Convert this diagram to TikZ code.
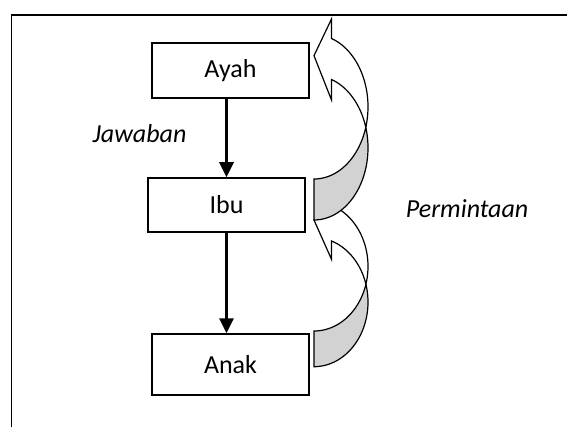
\documentclass[tikz,border=0pt]{standalone}
\usepackage{fontspec}
\setmainfont{Carlito}
\usetikzlibrary{arrows.meta}
\definecolor{backgray}{RGB}{210,210,210}

\tikzset{
  box/.style={draw=black, line width=1.5pt, minimum width=157pt, inner sep=0pt,
    font=\fontsize{26}{31}\selectfont},
  lbl/.style={inner sep=0pt, font=\fontsize{26}{31}\selectfont\itshape},
  flow/.style={line width=2.7pt, -{Triangle[width=14pt,length=15pt]}},
  bandfront/.style={fill=white, draw=black, line width=1.2pt},
  bandback/.style={fill=backgray, draw=black, line width=1.2pt},
}

% Curved left-pointing block arrow built from two equal half ellipses.
% #1 left x, #2 horizontal radius, #3 centre y of the upper ellipse,
% #4 vertical radius, #5 band thickness, #6 head top y, #7 head bottom y, #8 tip y
\newcommand{\bentarrow}[8]{%
  \pgfmathsetmacro{\bxNeck}{#1+17.5}%
  \pgfmathsetmacro{\bxStart}{-acos(17.5/#2)}%
  \pgfmathsetmacro{\bxCross}{asin(#5/(2*#4))}%
  % visible front of the band with its head
  \draw[bandfront] (#1,#8) -- (\bxNeck,#6)
    -- plot[domain=\bxStart:\bxCross, samples=50, variable=\q]
         ({#1+#2*cos(\q)},{#3+#4*sin(\q)})
    -- plot[domain=-\bxCross:\bxStart, samples=50, variable=\q]
         ({#1+#2*cos(\q)},{#3+#5+#4*sin(\q)})
    -- (\bxNeck,#7) -- cycle;
  % shaded underside near the tail
  \draw[bandback] plot[domain=90:\bxCross, samples=50, variable=\q]
         ({#1+#2*cos(\q)},{#3+#4*sin(\q)})
    -- plot[domain=-\bxCross:90, samples=50, variable=\q]
         ({#1+#2*cos(\q)},{#3+#5+#4*sin(\q)})
    -- cycle;
}

\begin{document}
\begin{tikzpicture}[x=1pt, y=-1pt]
  \useasboundingbox (0,0) rectangle (567,427);

  % open frame: top and left sides
  \draw[line width=1.5pt] (11.5,427) -- (11.5,15) -- (567,15);

  % hierarchy boxes
  \node[box, minimum height=55pt] (ayah) at (230.5,70.5) {Ayah};
  \node[box, minimum height=54pt] (ibu)  at (226.5,205)  {Ibu};
  \node[box, minimum height=61pt] (anak) at (230.5,364.5) {Anak};

  % labels
  \node[lbl, anchor=base west] (jawaban) at (92.5,143) {Jawaban};
  \node[lbl, anchor=base east] (permintaan) at (528.5,218) {Permintaan};

  % downward answers
  \draw[flow] (ibu.north |- ayah.south) -- (ibu.north);
  \draw[flow] (ibu.south) -- (ibu.south |- anak.north);

  % upward requests (lower one first, the upper one overlaps it)
  \bentarrow{314}{54}{266.4}{64.6}{35.7}{187.5}{259.3}{220}
  \bentarrow{314}{54}{106.8}{72.2}{41}{19}{100}{55.7}
\end{tikzpicture}
\end{document}
